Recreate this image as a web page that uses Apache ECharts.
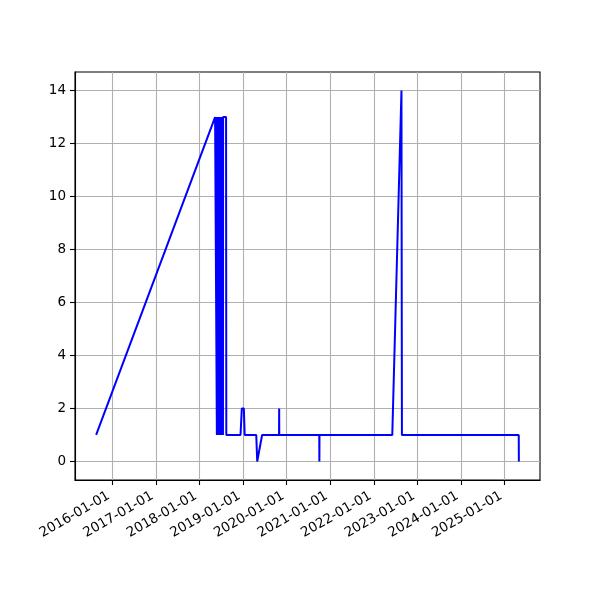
<!DOCTYPE html>
<html>
<head>
<meta charset="utf-8">
<script src="https://cdn.jsdelivr.net/npm/echarts@6/dist/echarts.min.js"></script>
<style>
html,body{margin:0;padding:0;background:#fff;}
#chart{width:600px;height:600px;}
</style>
</head>
<body>
<div id="chart"></div>
<script>
// ---- data ----
const dates = [
  '2015-08-19', '2018-05-12',
  '2018-05-27', '2018-05-29', '2018-05-31', '2018-06-02', '2018-06-04', '2018-06-06',
  '2018-06-08', '2018-06-10', '2018-06-12', '2018-06-14', '2018-06-16', '2018-06-18',
  '2018-06-20', '2018-06-22', '2018-06-24', '2018-06-26', '2018-06-28', '2018-06-30',
  '2018-07-02', '2018-07-04', '2018-07-06', '2018-07-08', '2018-07-10', '2018-07-12',
  '2018-07-14', '2018-07-16', '2018-07-17', '2018-07-18',
  '2018-08-12', '2018-08-14',
  '2018-12-11', '2018-12-22', '2019-01-08', '2019-01-15',
  '2019-04-22', '2019-04-30', '2019-05-16', '2019-06-10',
  '2019-10-30', '2019-10-31', '2019-11-01',
  '2020-10-01', '2020-10-02', '2020-10-03',
  '2022-06-05', '2022-08-21', '2022-08-25',
  '2025-04-30', '2025-05-01'
];
const values = [
  1, 13,
  1, 13, 1, 13, 1, 13,
  1, 13, 1, 13, 1, 13,
  1, 13, 1, 13, 1, 13,
  1, 13, 1, 13, 1, 13,
  1, 13, 1, 13,
  13, 1,
  1, 2, 2, 1,
  1, 0, 0, 1,
  1, 2, 1,
  1, 0, 1,
  1, 14, 1,
  1, 0
];
const xTickLabels = ['2016-01-01','2017-01-01','2018-01-01','2019-01-01','2020-01-01',
                     '2021-01-01','2022-01-01','2023-01-01','2024-01-01','2025-01-01'];
const yTicks = [0, 2, 4, 6, 8, 10, 12, 14];

// ---- build ----
function ts(s){ return Date.UTC(+s.slice(0,4), +s.slice(5,7) - 1, +s.slice(8,10)); }
const seriesData = dates.map((d, i) => [ts(d), values[i]]);
const xTickValues = xTickLabels.map(ts);
const labelMap = {};
xTickValues.forEach((v, i) => { labelMap[v] = xTickLabels[i]; });

const tMin = Math.min.apply(null, seriesData.map(p => p[0]));
const tMax = Math.max.apply(null, seriesData.map(p => p[0]));
const tPad = (tMax - tMin) * 0.05;
const vMin = Math.min.apply(null, values), vMax = Math.max.apply(null, values);
const vPad = (vMax - vMin) * 0.05;

const font = 'DejaVu Sans';
const chart = echarts.init(document.getElementById('chart'), null, {renderer: 'canvas'});
chart.setOption({
  animation: false,
  backgroundColor: '#ffffff',
  grid: {
    left: 75, right: 60, top: 72, bottom: 120,
    show: true, borderColor: '#000000', borderWidth: 1.1, backgroundColor: 'transparent',
    containLabel: false
  },
  xAxis: {
    type: 'value',
    min: tMin - tPad,
    max: tMax + tPad,
    scale: true,
    axisLine: {show: true, onZero: false, lineStyle: {color: '#000', width: 1.1}},
    axisTick: {show: true, length: 5, inside: false, lineStyle: {color: '#000', width: 1.1},
               customValues: xTickValues},
    axisLabel: {
      customValues: xTickValues,
      rotate: 30,
      margin: 13,
      padding: [0, 4, 0, 0],
      color: '#000',
      fontFamily: font,
      fontSize: 13.5,
      formatter: function (v) { return labelMap[v] || ''; }
    },
    splitLine: {show: true, lineStyle: {color: '#b0b0b0', width: 1.1}}
  },
  yAxis: {
    type: 'value',
    min: vMin - vPad,
    max: vMax + vPad,
    axisLine: {show: true, onZero: false, lineStyle: {color: '#000', width: 1.1}},
    axisTick: {show: true, length: 5, inside: false, lineStyle: {color: '#000', width: 1.1},
               customValues: yTicks},
    axisLabel: {
      customValues: yTicks,
      margin: 9,
      color: '#000',
      fontFamily: font,
      fontSize: 13.5
    },
    splitLine: {show: true, lineStyle: {color: '#b0b0b0', width: 1.1}}
  },
  series: [{
    type: 'line',
    data: seriesData,
    showSymbol: false,
    symbol: 'none',
    lineStyle: {color: '#0000ff', width: 2},
    clip: true
  }]
});
</script>
</body>
</html>
